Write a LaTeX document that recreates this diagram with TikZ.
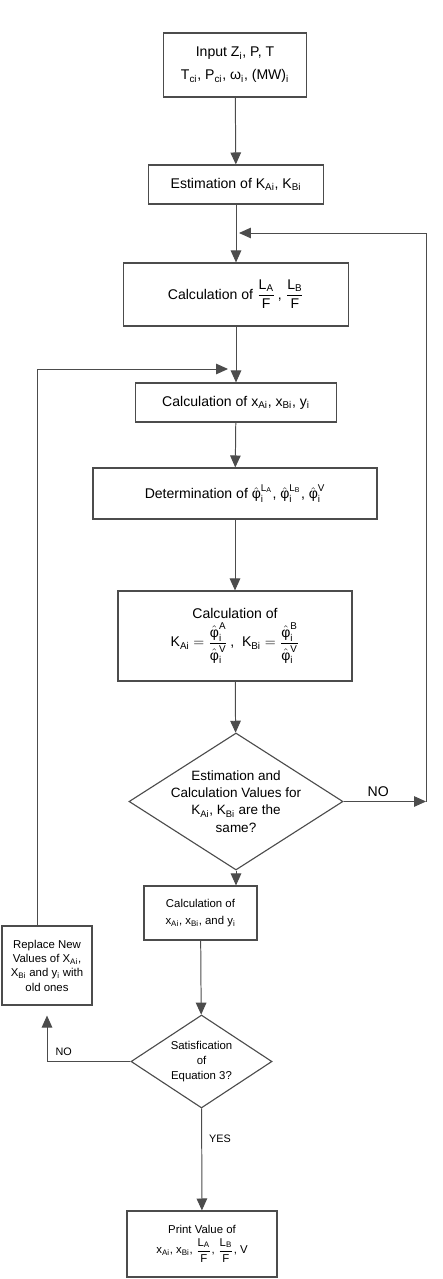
\documentclass[tikz,border=0pt]{standalone}
\usepackage{amsmath}
\usepackage{fontspec}
\setmainfont{Liberation Sans}
\usepackage{tikz}
\usetikzlibrary{shapes.geometric,arrows.meta,positioning}

\definecolor{linegray}{gray}{0.3}
\newlength\pxu
\setlength\pxu{0.025cm}

\tikzset{
	box/.style={draw=linegray, line width=0.8pt, rectangle, inner sep=1pt, align=center, font=\fontsize{10}{12.3}\selectfont},
	smallbox/.style={box, font=\fontsize{8.1}{10.2}\selectfont},
	decision/.style={draw=linegray, line width=0.8pt, diamond, inner sep=0pt},
	arr/.style={draw=linegray, line width=0.7pt, -{Triangle[length=8.5pt,width=7.5pt]}},
	lbl/.style={font=\fontsize{10}{12}\selectfont, inner sep=2pt},
	smalllbl/.style={font=\fontsize{7.7}{9}\selectfont, inner sep=2pt}
}

\begin{document}
\begin{tikzpicture}[x=0.025cm, y=-0.025cm]
	\useasboundingbox (0,0) rectangle (442,1279);
	
	% Main column
	\node[box, minimum width=143\pxu, minimum height=64\pxu] (input) at (235,65)
		{Input Z\textsubscript{i}, P, T\\[4pt]T\textsubscript{ci}, P\textsubscript{ci}, ω\textsubscript{i}, (MW)\textsubscript{i}};
	\node[box, minimum width=175\pxu, minimum height=39\pxu] (est) at (236,184.5)
		{Estimation of K\textsubscript{Ai}, K\textsubscript{Bi}};
	\node[box, minimum width=225\pxu, minimum height=63\pxu] (calcL) at (236,294.5)
		{Calculation of $\dfrac{\text{L}_\text{A}}{\text{F}}$\,, $\dfrac{\text{L}_\text{B}}{\text{F}}$};
	\node[box, minimum width=201\pxu, minimum height=39\pxu] (calcx) at (236,402.5)
		{Calculation of x\textsubscript{Ai}, x\textsubscript{Bi}, y\textsubscript{i}};
	\node[box, minimum width=284\pxu, minimum height=51\pxu] (det) at (235,493.5)
		{Determination of $\hat{\text{φ}}_\text{i}^{\text{L}_\text{A}}$, $\hat{\text{φ}}_\text{i}^{\text{L}_\text{B}}$, $\hat{\text{φ}}_\text{i}^{\text{V}}$};
	\node[box, minimum width=234\pxu, minimum height=90\pxu] (calcK) at (235,636)
		{Calculation of\\[2pt]
		$\text{K}_\text{Ai}=\dfrac{\hat{\text{φ}}_\text{i}^\text{A}}{\hat{\text{φ}}_\text{i}^\text{V}}$\,,\;
		$\text{K}_\text{Bi}=\dfrac{\hat{\text{φ}}_\text{i}^\text{B}}{\hat{\text{φ}}_\text{i}^\text{V}}$};
	\node[decision, minimum width=214\pxu, minimum height=137\pxu,
		label={[align=center, font=\fontsize{9.6}{12.3}\selectfont]center:Estimation and\\Calculation Values for\\K\textsubscript{Ai}, K\textsubscript{Bi} are the\\same?}] (dia1) at (236,801.5) {};
	
	% Lower part
	\node[smallbox, minimum width=113\pxu, minimum height=54\pxu] (calcxy) at (200.5,913)
		{Calculation of\\[2pt]x\textsubscript{Ai}, x\textsubscript{Bi}, and y\textsubscript{i}};
	\node[smallbox, minimum width=90\pxu, minimum height=79\pxu] (repl) at (47,965.5)
		{Replace New\\Values of X\textsubscript{Ai},\\X\textsubscript{Bi} and y\textsubscript{i} with\\old ones};
	\node[decision, minimum width=141\pxu, minimum height=93\pxu,
		label={[align=center, font=\fontsize{8.1}{10.7}\selectfont]center:Satisfication\\of\\Equation 3?}] (dia2) at (201.5,1061.5) {};
	\node[smallbox, minimum width=150\pxu, minimum height=66\pxu] (print) at (202,1244)
		{Print Value of\\[2pt]
		x\textsubscript{Ai}, x\textsubscript{Bi}, $\dfrac{\text{L}_\text{A}}{\text{F}}$, $\dfrac{\text{L}_\text{B}}{\text{F}}$, V};
	
	% Loop points
	\coordinate (noR) at (426,801.5);
	\coordinate (mergeR) at (239,233);
	\coordinate (mergeL) at (228,369);
	
	% Connectors
	\draw[arr] (input) -- (est);
	\draw[arr] (est) -- (calcL);
	\draw[arr] (calcL) -- (calcx);
	\draw[arr] (calcx) -- (det);
	\draw[arr] (det) -- (calcK);
	\draw[arr] (calcK) -- (dia1);
	\draw[arr] (dia1.south) -- (dia1.south |- calcxy.north);
	\draw[arr] (dia1.east) -- node[lbl, above=1pt, pos=0.42] {NO} (noR);
	\draw[arr] (noR) |- (mergeR);
	\draw[arr] (calcxy) -- (dia2);
	\draw[arr] (dia2) -- node[smalllbl, right=3pt, pos=0.3] {YES} (print);
	\draw[arr] (dia2.west) -| node[smalllbl, above=2pt, pos=0.4] {NO} ([yshift=-10\pxu]repl.south);
	\draw[arr] ([xshift=-10\pxu]repl.north) |- (mergeL);
\end{tikzpicture}
\end{document}
